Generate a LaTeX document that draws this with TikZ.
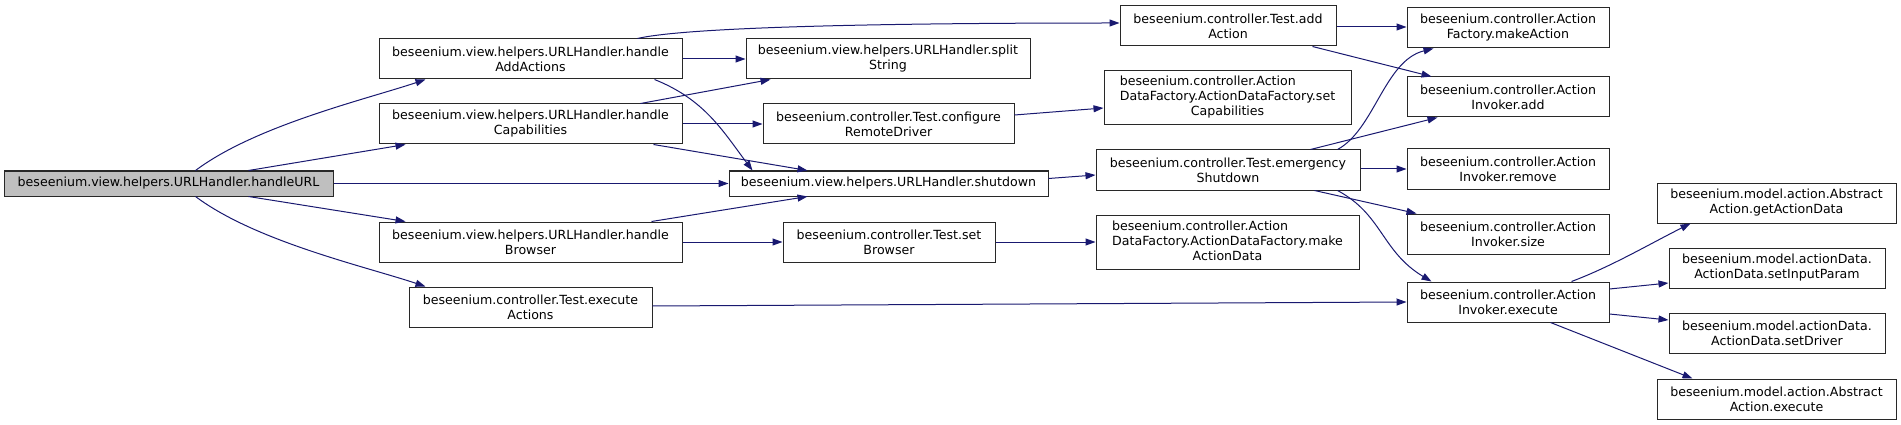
\documentclass[tikz,border=0pt]{standalone}
\usepackage{fontspec}
\setmainfont{DejaVu Sans}
\usetikzlibrary{arrows.meta,calc}
\definecolor{midblue}{RGB}{25,25,112}
\definecolor{rootgray}{RGB}{191,191,191}
\definecolor{boxline}{RGB}{40,40,40}
\begin{document}
\begin{tikzpicture}[x=1pt,y=-1pt,
  box/.style={draw=boxline, line width=1pt, inner sep=0pt, minimum height=40pt, align=center, font=\fontsize{12.6}{15}\selectfont},
  boxthree/.style={draw=boxline, line width=1pt, inner sep=0pt, minimum height=54pt, font=\fontsize{12.6}{15}\selectfont},
  edge/.style={draw=midblue, line width=1pt, -{Triangle[length=10pt,width=7pt]}}]
\useasboundingbox (0,0) rectangle (1901,425);
% column 0
\node[box, fill=rootgray, minimum width=329pt, minimum height=25pt] (root) at (168.5,183.5) {beseenium.view.helpers.URLHandler.handleURL};
% column 1
\node[box, minimum width=303pt] (hAA) at (530.5,59) {beseenium.view.helpers.URLHandler.handle\\AddActions};
\node[box, minimum width=303pt] (hCap) at (530.5,124) {beseenium.view.helpers.URLHandler.handle\\Capabilities};
\node[box, minimum width=303pt] (hBr) at (530.5,242) {beseenium.view.helpers.URLHandler.handle\\Browser};
\node[box, minimum width=243pt] (exA) at (530.5,307) {beseenium.controller.Test.execute\\Actions};
% column 2
\node[box, minimum width=284pt] (split) at (888,59) {beseenium.view.helpers.URLHandler.split\\String};
\node[box, minimum width=251pt] (crd) at (888.5,124) {beseenium.controller.Test.configure\\RemoteDriver};
\node[box, minimum width=319pt, minimum height=25pt] (shut) at (888.5,183.5) {beseenium.view.helpers.URLHandler.shutdown};
\node[box, minimum width=212pt] (setB) at (889,242) {beseenium.controller.Test.set\\Browser};
% column 3
\node[box, minimum width=216pt] (addA) at (1228,26) {beseenium.controller.Test.add\\Action};
\node[boxthree, minimum width=247pt] (setCap) at (1227.5,98) {\begin{tabular}{@{}l@{}}beseenium.controller.Action\\DataFactory.ActionDataFactory.set\\\multicolumn{1}{@{}c@{}}{Capabilities}\end{tabular}};
\node[box, minimum width=264pt] (emS) at (1228,170) {beseenium.controller.Test.emergency\\Shutdown};
\node[boxthree, minimum width=263pt] (mkAD) at (1227.5,242) {\begin{tabular}{@{}l@{}}beseenium.controller.Action\\DataFactory.ActionDataFactory.make\\\multicolumn{1}{@{}c@{}}{ActionData}\end{tabular}};
% column 4
\node[box, minimum width=202pt] (mkA) at (1508,28) {beseenium.controller.Action\\Factory.makeAction};
\node[box, minimum width=202pt] (iAdd) at (1508,97) {beseenium.controller.Action\\Invoker.add};
\node[box, minimum width=202pt] (iRem) at (1508,169) {beseenium.controller.Action\\Invoker.remove};
\node[box, minimum width=202pt] (iSize) at (1508,234) {beseenium.controller.Action\\Invoker.size};
\node[box, minimum width=202pt] (iExe) at (1508,302) {beseenium.controller.Action\\Invoker.execute};
% column 5
\node[box, minimum width=239pt] (getAD) at (1776.5,203) {beseenium.model.action.Abstract\\Action.getActionData};
\node[box, minimum width=216pt] (setIP) at (1777,268) {beseenium.model.actionData.\\ActionData.setInputParam};
\node[box, minimum width=216pt] (setDr) at (1777,333.5) {beseenium.model.actionData.\\ActionData.setDriver};
\node[box, minimum width=239pt] (absEx) at (1776.5,399) {beseenium.model.action.Abstract\\Action.execute};
% edges
\draw[edge] ($(root.north west)+(192,0)$) .. controls +(60,-45) and +(-60,20) .. ($(hAA.south west)+(47,0)$);
\draw[edge] ($(root.north west)+(245,0)$) -- ($(hCap.south west)+(27,0)$);
\draw[edge] (root.east) -- (shut.west);
\draw[edge] ($(root.south west)+(245,0)$) -- ($(hBr.north west)+(27,0)$);
\draw[edge] ($(root.south west)+(192,0)$) .. controls +(60,45) and +(-60,-20) .. ($(exA.north west)+(17,0)$);
\draw[edge] ($(hAA.north west)+(259,0)$) .. controls +(60,-14) and +(-150,0) .. ($(addA.west)+(0,-3)$);
\draw[edge] (hAA.east) -- (split.west);
\draw[edge] ($(hAA.south west)+(276,0)$) .. controls +(50,20) and +(-30,-40) .. ($(shut.north west)+(24,0)$);
\draw[edge] ($(hCap.north west)+(262,0)$) -- ($(split.south west)+(25,0)$);
\draw[edge] (hCap.east) -- (crd.west);
\draw[edge] ($(hCap.south west)+(275,0)$) -- ($(shut.north west)+(79,0)$);
\draw[edge] ($(hBr.north west)+(273,0)$) -- ($(shut.south west)+(79,0)$);
\draw[edge] (hBr.east) -- (setB.west);
\draw[edge] ($(exA.east)+(0,-1)$) -- (iExe.west);
\draw[edge] ($(crd.east)+(0,-9)$) -- ($(setCap.west)+(0,10)$);
\draw[edge] ($(shut.east)+(0,-5)$) -- ($(emS.west)+(0,5)$);
\draw[edge] (setB.east) -- (mkAD.west);
\draw[edge] ($(addA.east)+(0,1)$) -- ($(mkA.west)+(0,-1)$);
\draw[edge] ($(addA.south west)+(193,0)$) -- ($(iAdd.north west)+(25,0)$);
\draw[edge] ($(emS.north west)+(242,0)$) .. controls +(37,-20) and +(-49,12) .. ($(mkA.south west)+(27,0)$);
\draw[edge] ($(emS.north west)+(215,0)$) -- ($(iAdd.south west)+(31,0)$);
\draw[edge] ($(emS.east)+(0,-1)$) -- (iRem.west);
\draw[edge] ($(emS.south west)+(219,0)$) -- ($(iSize.north west)+(10,0)$);
\draw[edge] ($(emS.south west)+(242,0)$) .. controls +(45,24) and +(-50,-30) .. ($(iExe.north west)+(25,0)$);
\draw[edge] ($(iExe.north west)+(165,0)$) .. controls +(40,-15) and +(-40,20) .. ($(getAD.south west)+(34,0)$);
\draw[edge] ($(iExe.east)+(0,-13)$) -- ($(setIP.west)+(0,15)$);
\draw[edge] ($(iExe.east)+(0,12)$) -- ($(setDr.west)+(0,-13.5)$);
\draw[edge] ($(iExe.south west)+(144,0)$) -- ($(absEx.north west)+(36,0)$);
\end{tikzpicture}
\end{document}
